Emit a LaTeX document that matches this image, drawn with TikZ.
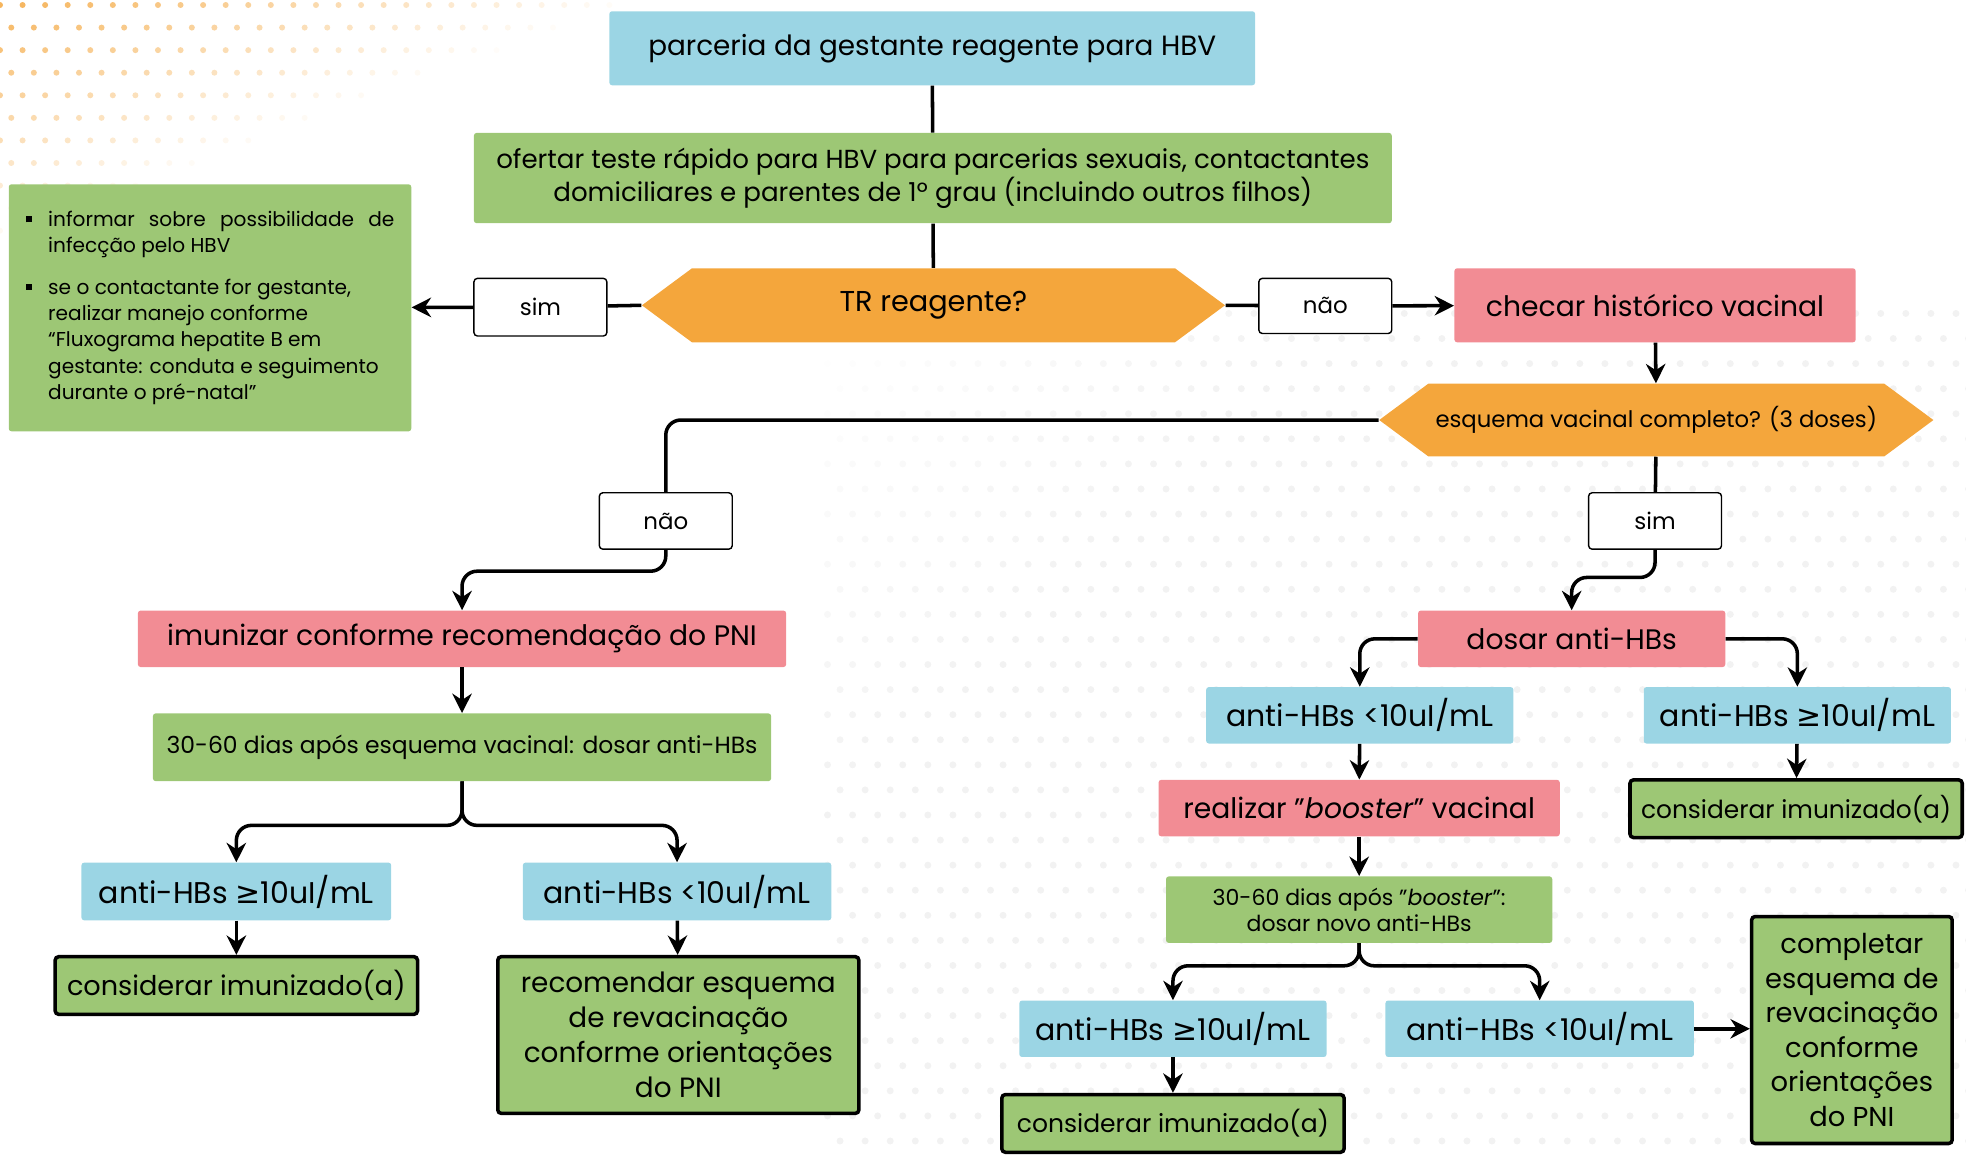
\documentclass[tikz,border=0pt]{standalone}
\usepackage{fontspec}
\setmainfont{Poppins}
\newfontfamily\symfont{DejaVu Sans}
\usetikzlibrary{arrows.meta,shapes.symbols}

\definecolor{boxblue}{RGB}{155,213,228}
\definecolor{boxgreen}{RGB}{157,199,117}
\definecolor{boxpink}{RGB}{242,140,148}
\definecolor{boxorange}{RGB}{244,166,60}
\definecolor{dotgray}{RGB}{150,150,150}

\newcommand{\maiorigual}{{\symfont ≥}}
\newcommand{\marcador}{\rule[2.5pt]{3.5pt}{3.5pt}}

\begin{document}
\begin{tikzpicture}[x=0.025cm, y=-0.025cm,
	wh/.style 2 args={minimum width=#1*0.025cm, minimum height=#2*0.025cm},
	fs/.style={font=\fontsize{#1}{#1}\selectfont},
	box/.style={rectangle, rounded corners=1.5pt, inner sep=2pt, align=center, font=\fontsize{16}{19.5}\selectfont},
	bluebox/.style={box, fill=boxblue, font=\fontsize{17}{20}\selectfont},
	greenbox/.style={box, fill=boxgreen},
	pinkbox/.style={box, fill=boxpink},
	endbox/.style={box, fill=boxgreen, draw=black, line width=2pt, rounded corners=2pt},
	decision/.style={signal, signal to=west and east, signal pointer angle=73, fill=boxorange, inner sep=2pt, font=\fontsize{16.3}{19}\selectfont},
	answer/.style={rectangle, draw=black, line width=0.8pt, fill=white, rounded corners=2pt, font=\fontsize{13}{15}\selectfont},
	link/.style={line width=2pt},
	arrow/.style={link, -{Stealth[length=11pt,width=11pt]}},
	curva/.style={rounded corners=0.3cm}]
	\useasboundingbox (0,0) rectangle (1568,925);
	
	% fundo pontilhado
	\foreach \i in {0,...,30} {
		\foreach \j in {0,...,11} {
			\pgfmathsetmacro\dotx{\i*18+mod(\j,2)*9}
			\pgfmathsetmacro\doty{\j*18+4}
			\pgfmathsetmacro\dotop{0.85*(1-\dotx/520-\doty/200)}
			\ifdim\dotop pt>0.03pt
				\fill[boxorange, opacity=\dotop] (\dotx,\doty) circle (0.06cm);
			\fi
		}
	}
	\foreach \i in {0,...,45} {
		\foreach \j in {0,...,34} {
			\pgfmathsetmacro\dotx{660+\i*20+mod(\j,2)*10}
			\pgfmathsetmacro\doty{250+\j*20}
			\pgfmathsetmacro\dotop{0.12*min(1,(\dotx-660)/400+(\doty-250)/400)}
			\ifdim\dotop pt>0.01pt
				\fill[dotgray, opacity=\dotop] (\dotx,\doty) circle (0.07cm);
			\fi
		}
	}
	
	\node[bluebox, wh={515}{59}, fs=15.8] (parceria) at (743.5,38.5) {parceria da gestante reagente para HBV};
	\node[greenbox, wh={732}{72}, font=\fontsize{14.8}{18.5}\selectfont] (ofertar) at (744,142) {ofertar teste rápido para HBV para parcerias sexuais, contactantes\\ domiciliares e parentes de 1º grau (incluindo outros filhos)};
	\node[decision, wh={465}{59}] (tr) at (744.5,243.5) {TR reagente?};
	\node[answer, wh={106}{46}] (simA) at (431,245) {sim};
	\node[greenbox, wh={321}{197}, align=left, font=\fontsize{11.4}{14.9}\selectfont] (info) at (167.5,245.5) {%
		\begin{tabular}{@{}p{0.45cm}@{}p{6.9cm}@{}}
			\marcador & informar sobre possibilidade de\linebreak infecção pelo HBV \\[0.3cm]
			\marcador & \raggedright se o contactante for gestante,\newline realizar manejo conforme\newline “Fluxograma hepatite B em\newline gestante: conduta e seguimento\newline durante o pré-natal”
		\end{tabular}};
	\node[answer, wh={106}{44}] (naoA) at (1057,244) {não};
	\node[pinkbox, wh={320}{59}] (checar) at (1320,243.5) {checar histórico vacinal};
	\node[decision, wh={442}{58}, font=\fontsize{12.9}{15}\selectfont] (esquema) at (1321,335) {esquema vacinal completo? (3 doses)};
	\node[answer, wh={106}{45}] (naoB) at (531,415.5) {não};
	\node[answer, wh={106}{45}] (simB) at (1320,415.5) {sim};
	
	% ramo esquerdo
	\node[pinkbox, wh={517}{45}] (imunizar) at (368.5,509.5) {imunizar conforme recomendação do PNI};
	\node[greenbox, wh={493}{54}, font=\fontsize{13.3}{16}\selectfont] (dias) at (368.5,596) {30-60 dias após esquema vacinal: dosar anti-HBs};
	\node[bluebox, wh={247}{46}] (maiorA) at (188.5,711) {anti-HBs \maiorigual10uI/mL};
	\node[bluebox, wh={246}{46}] (menorA) at (540,711) {anti-HBs <10uI/mL};
	\node[endbox, wh={289}{46}, fs=15.4] (imunizadoA) at (188.5,786) {considerar imunizado(a)};
	\node[endbox, wh={288}{125}, font=\fontsize{15.8}{19.8}\selectfont] (revacinarA) at (541,825.5) {recomendar esquema\\ de revacinação\\ conforme orientações\\ do PNI};
	
	% ramo direito
	\node[pinkbox, wh={245}{45}] (dosar) at (1253.5,509.5) {dosar anti-HBs};
	\node[bluebox, wh={245}{45}] (menorB) at (1084.5,570.5) {anti-HBs <10uI/mL};
	\node[bluebox, wh={245}{45}] (maiorB) at (1433.5,570.5) {anti-HBs \maiorigual10uI/mL};
	\node[endbox, wh={265}{46}, fs=14.1] (imunizadoB) at (1432.5,645) {considerar imunizado(a)};
	\node[pinkbox, wh={320}{45}] (booster) at (1084,644.5) {realizar "\textit{booster}" vacinal};
	\node[greenbox, wh={308}{53}, font=\fontsize{12.5}{15}\selectfont] (diasB) at (1084,725.5) {30-60 dias após "\textit{booster}":\\ dosar novo anti-HBs};
	\node[bluebox, wh={245}{45}] (maiorC) at (935.5,820.5) {anti-HBs \maiorigual10uI/mL};
	\node[bluebox, wh={246}{45}] (menorC) at (1228,820.5) {anti-HBs <10uI/mL};
	\node[endbox, wh={273}{46}, fs=14.2] (imunizadoC) at (935.5,896) {considerar imunizado(a)};
	\node[endbox, wh={160}{181}, font=\fontsize{15.5}{19.6}\selectfont] (completar) at (1477,821.5) {completar\\ esquema de\\ revacinação\\ conforme\\ orientações\\ do PNI};
	
	\draw[link] (parceria) -- (ofertar);
	\draw[link] (ofertar) -- (tr);
	\draw[link] (tr.west) -- (simA);
	\draw[arrow] (simA) -- (info);
	\draw[link] (tr.east) -- (naoA);
	\draw[arrow] (naoA) -- (checar);
	\draw[arrow] (checar) -- (esquema);
	\draw[link, curva] (esquema.west) -| (naoB);
	\draw[arrow, curva] (naoB.south) -- ++(0,17) -| (imunizar);
	\draw[link] (esquema) -- (simB);
	\draw[arrow, curva] (simB.south) -- ++(0,22) -| (dosar);
	
	\draw[arrow] (imunizar) -- (dias);
	\draw[arrow, curva] (dias.south) -- ++(0,35) -| (maiorA);
	\draw[arrow, curva] (dias.south) -- ++(0,35) -| (menorA);
	\draw[arrow] (maiorA) -- (imunizadoA);
	\draw[arrow] (menorA) -- (revacinarA);
	
	\draw[arrow, curva] (dosar.west) -| (menorB);
	\draw[arrow, curva] (dosar.east) -| (maiorB);
	\draw[arrow] (maiorB) -- (imunizadoB);
	\draw[arrow] (menorB) -- (booster);
	\draw[arrow] (booster) -- (diasB);
	\draw[arrow, curva] (diasB.south) -- ++(0,18) -| (maiorC);
	\draw[arrow, curva] (diasB.south) -- ++(0,18) -| (menorC);
	\draw[arrow] (maiorC) -- (imunizadoC);
	\draw[arrow] (menorC.east) -- (menorC.east -| completar.west);
\end{tikzpicture}
\end{document}
